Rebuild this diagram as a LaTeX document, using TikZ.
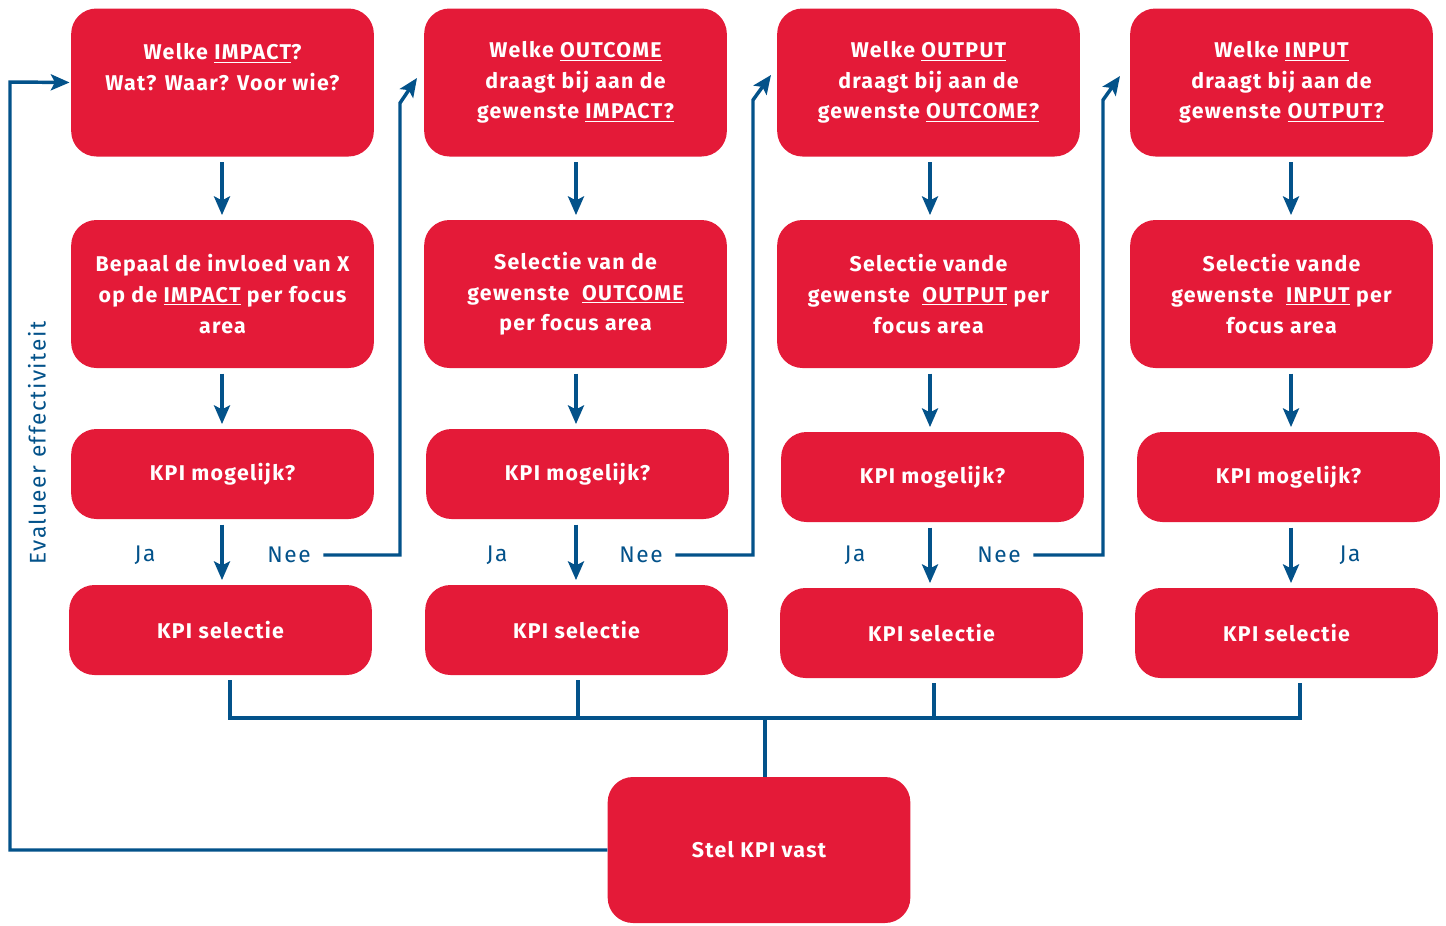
\documentclass[tikz,border=0pt]{standalone}
\usepackage{fontspec}
\setmainfont{Fira Sans}
\usepackage{tikz}
\usetikzlibrary{arrows.meta}
\definecolor{kpired}{HTML}{E41A38}
\definecolor{kpiblue}{HTML}{03528A}

\begin{document}
\begin{tikzpicture}[x=0.75pt,y=-0.75pt,>={Stealth[length=14pt,width=12pt,inset=3pt]}]
 \tikzstyle{box} = [fill=kpired,rounded corners=19pt,text=white,align=center,
   minimum width=227pt,inner sep=0pt,
   font=\fontsize{16}{23}\selectfont\bfseries\addfontfeatures{LetterSpace=6}]
 \tikzstyle{tall} = [box,minimum height=111pt]
 \tikzstyle{flat} = [box,minimum height=67.5pt]
 \tikzstyle{line} = [draw=kpiblue,line width=2.6pt]
 \tikzstyle{arr} = [line,->]
 \tikzstyle{lab} = [text=kpiblue,font=\fontsize{17}{20}\selectfont\addfontfeatures{LetterSpace=7}]
 \newcommand{\ul}[1]{\underline{#1}}

  \useasboundingbox (0,0) rectangle (1446,925);

  % Questions
  \node[tall] (q1) at (222.5,82.5) {Welke \ul{IMPACT}?\\Wat? Waar? Voor wie?\\\mbox{}};
  \node[tall] (q2) at (575.5,82.5) {Welke \ul{OUTCOME}\\draagt bij aan de\\gewenste \ul{IMPACT?}};
  \node[tall] (q3) at (928.5,82.5) {Welke \ul{OUTPUT}\\draagt bij aan de\\gewenste \ul{OUTCOME?}};
  \node[tall] (q4) at (1281.5,82.5) {Welke \ul{INPUT}\\draagt bij aan de\\gewenste \ul{OUTPUT?}};

  % Selection per focus area
  \node[tall] (f1) at (222.5,294) {Bepaal de invloed van X\\op de \ul{IMPACT} per focus\\area};
  \node[tall] (f2) at (575.5,294) {Selectie van de\\gewenste \ \ul{OUTCOME}\\per focus area};
  \node[tall] (f3) at (928.5,294) {Selectie vande\\gewenste \ \ul{OUTPUT} per\\focus area};
  \node[tall] (f4) at (1281.5,294) {Selectie vande\\gewenste \ \ul{INPUT} per\\focus area};

  % KPI possible?
  \node[flat] (m1) at (222.5,474) {KPI mogelijk?};
  \node[flat] (m2) at (577.5,474) {KPI mogelijk?};
  \node[flat] (m3) at (932.5,477) {KPI mogelijk?};
  \node[flat] (m4) at (1288.5,477) {KPI mogelijk?};

  % KPI selection
  \node[flat] (s1) at (220.5,630) {KPI selectie};
  \node[flat] (s2) at (576.5,630) {KPI selectie};
  \node[flat] (s3) at (931.5,633) {KPI selectie};
  \node[flat] (s4) at (1286.5,633) {KPI selectie};

  \node[box,minimum height=109.5pt] (vast) at (759,850) {Stel KPI vast};

  % Down arrows
  \foreach \a/\b/\x in {q1/f1/222,f1/m1/222,m1/s1/222,q2/f2/576,f2/m2/576,m2/s2/576,
                        q3/f3/930,f3/m3/930,m3/s3/930,q4/f4/1291,f4/m4/1291,m4/s4/1291}{
    \draw[arr,shorten <=4pt,shorten >=3.5pt] (\x,0 |- \a.south) -- (\x,0 |- \b.north);
  }

  % Ja / Nee
  \node[lab] (ja1) at (145,555) {Ja};
  \node[lab] (nee1) at (289,555) {Nee};
  \node[lab] (ja2) at (497,555) {Ja};
  \node[lab] (nee2) at (641,555) {Nee};
  \node[lab] (ja3) at (855,555) {Ja};
  \node[lab] (nee3) at (999,555) {Nee};
  \node[lab] (ja4) at (1350,555) {Ja};

  % Back to the next question
  \coordinate (k1) at (400,103);  \coordinate (t1) at (417,78);
  \coordinate (k2) at (753,100);  \coordinate (t2) at (771,75);
  \coordinate (k3) at (1103,100); \coordinate (t3) at (1120,76);
  \draw[arr,shorten <=6pt] (nee1.east) -| (k1) -- (t1);
  \draw[arr,shorten <=6pt] (nee2.east) -| (k2) -- (t2);
  \draw[arr,shorten <=6pt] (nee3.east) -| (k3) -- (t3);

  % Collect
  \coordinate (bus) at (765,718);
  \draw[line] ([shift={(9.5,5)}]s1.south) |- (bus);
  \draw[line] ([shift={(1.5,5)}]s2.south) |- (bus);
  \draw[line] ([shift={(2.5,5)}]s3.south) |- (bus);
  \draw[line] ([shift={(13.5,5)}]s4.south) |- (bus);
  \draw[line] (bus) -- (765,0 |- vast.north);

  % Feedback
  \coordinate (fb) at (10,82);
  \draw[arr,shorten >=1pt] (vast.west) -| (fb) -- (q1.west);
  \node[lab,rotate=90] (eval) at (37,443) {Evalueer effectiviteit};

\end{tikzpicture}
\end{document}
